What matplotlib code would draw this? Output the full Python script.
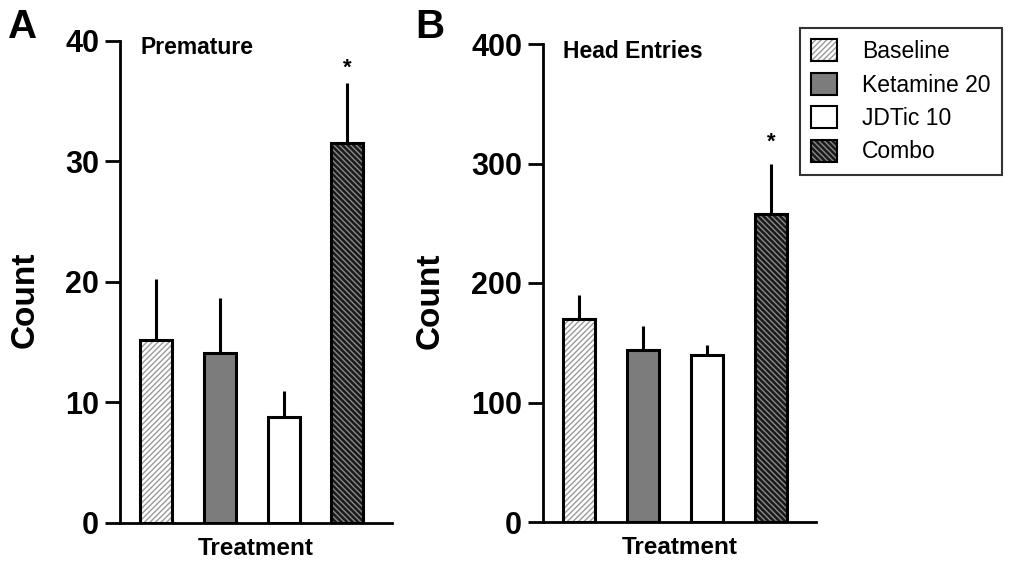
import matplotlib
matplotlib.use("Agg")
import matplotlib.pyplot as plt
from matplotlib.patches import Patch
from matplotlib.legend_handler import HandlerTuple

plt.rcParams['font.family'] = ['Liberation Sans', 'DejaVu Sans']
plt.rcParams['hatch.linewidth'] = 1.0

groups = ["Baseline", "Ketamine 20", "JDTic 10", "Combo"]
premature_mean = [15.2, 14.1, 8.8, 31.5]
premature_sem = [5.0, 4.55, 2.1, 5.0]
head_mean = [169.5, 143.7, 139.7, 257.8]
head_sem = [20.3, 20.2, 8.3, 41.7]
premature_star = 37.7
head_star = 318

facecolors = ["white", "#7c7c7c", "white", "#1a1a1a"]
hatches = ["//////", None, None, "\\\\\\\\\\\\"]
hatchcolors = ["#9a9a9a", "#7c7c7c", "white", "#8a8a8a"]

W, H = 1013, 566
fig = plt.figure(figsize=(W / 100, H / 100), dpi=100)

def make_ax(x0, x1, y0, y1):
    return fig.add_axes([x0 / W, 1 - y0 / H, (x1 - x0) / W, (y0 - y1) / H])

axA = make_ax(120, 392, 522.7, 40.7)
axB = make_ax(543, 816, 522.0, 44.0)

def draw(ax, means, sems, ymax, ticks, title, star_y, ylab_x):
    x = list(range(len(means)))
    for i, (m, s) in enumerate(zip(means, sems)):
        ax.bar(x[i], m, width=0.5, color=facecolors[i], hatch=hatches[i],
               edgecolor=hatchcolors[i], linewidth=0, zorder=2)
        ax.bar(x[i], m, width=0.5, fill=False, edgecolor="black",
               linewidth=2.2, zorder=3)
        ax.errorbar(x[i], m, yerr=[[0], [s]], fmt="none", ecolor="black",
                    elinewidth=2.2, capsize=0, zorder=1)
    ax.text(3, star_y, "*", ha="center", va="center", fontsize=16,
            fontweight="bold")
    ax.set_xlim(-0.565, 3.7)
    ax.set_ylim(0, ymax)
    ax.set_yticks(ticks)
    ax.set_xticks([])
    ax.spines["top"].set_visible(False)
    ax.spines["right"].set_visible(False)
    ax.spines["left"].set_linewidth(2)
    ax.spines["bottom"].set_linewidth(2)
    ax.tick_params(axis="y", length=11, width=2, labelsize=22, pad=4)
    for lab in ax.get_yticklabels():
        lab.set_fontweight("bold")
    ax.set_ylabel("Count", fontsize=24, fontweight="bold")
    ax.yaxis.set_label_coords(ylab_x, 0.462)
    ax.set_xlabel("Treatment", fontsize=17.5, fontweight="bold", labelpad=10)
    ax.text(0.075, 0.985, title, transform=ax.transAxes, fontsize=16.5,
            fontweight="bold", va="center", ha="left")

draw(axA, premature_mean, premature_sem, 40, [0, 10, 20, 30, 40],
     "Premature", premature_star, -0.292)
draw(axB, head_mean, head_sem, 400, [0, 100, 200, 300, 400],
     "Head Entries", head_star, -0.355)

fig.text(8 / W, 1 - 27 / H, "A", fontsize=29, fontweight="bold", va="center")
fig.text(415 / W, 1 - 27 / H, "B", fontsize=29, fontweight="bold", va="center")

handles = []
for i in range(4):
    p1 = Patch(facecolor=facecolors[i], hatch=hatches[i],
               edgecolor=hatchcolors[i], linewidth=0)
    p2 = Patch(fill=False, edgecolor="black", linewidth=1.5)
    handles.append((p1, p2))
leg = fig.legend(handles, groups, handler_map={tuple: HandlerTuple(ndivide=1)},
                 loc="upper left", bbox_to_anchor=(800 / W, 1 - 28 / H),
                 fontsize=16.5, frameon=True, fancybox=False, edgecolor="black",
                 handlelength=1.1, handleheight=1.1, handletextpad=1.1,
                 labelspacing=0.42, borderpad=0.5, borderaxespad=0)
leg.get_frame().set_linewidth(1.5)

fig.savefig("out.png", dpi=100)
